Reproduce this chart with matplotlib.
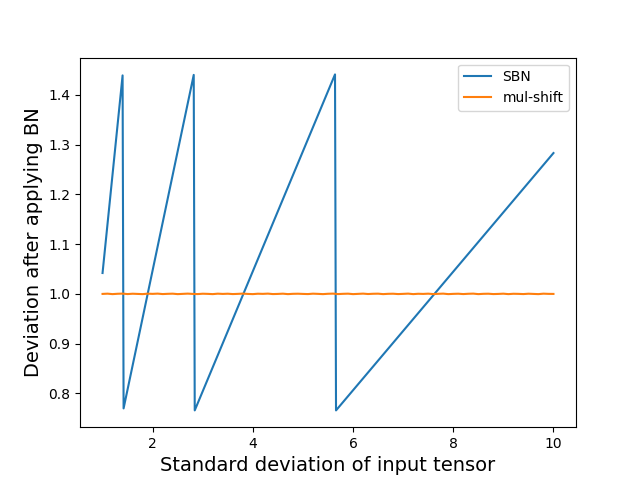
import matplotlib
matplotlib.use("Agg")
import matplotlib.pyplot as plt
import numpy as np

# SBN: sawtooth vertices
sbn_x = [1.0, 1.40, 1.42, 2.82, 2.84, 5.64, 5.66, 10.0]
sbn_y = [1.042, 1.439, 0.770, 1.440, 0.766, 1.441, 0.766, 1.283]

# mul-shift: stays at ~1.0 with very small jitter
mul_x = np.linspace(1.0, 10.0, 91)
mul_y = [1.0000, 1.0005, 0.9996, 1.0003, 1.0006, 0.9997, 1.0004, 1.0000, 0.9996, 1.0005,
         1.0001, 1.0006, 0.9997, 1.0002, 1.0005, 0.9996, 1.0001, 1.0006, 1.0000, 0.9997,
         1.0004, 1.0001, 0.9996, 1.0005, 1.0000, 1.0004, 0.9997, 1.0001, 1.0006, 1.0000,
         0.9996, 1.0004, 1.0001, 1.0006, 0.9997, 1.0000, 1.0005, 0.9996, 1.0002, 1.0004,
         1.0000, 0.9997, 1.0005, 1.0001, 0.9996, 1.0003, 1.0006, 0.9997, 1.0002, 1.0005,
         0.9996, 1.0001, 1.0006, 0.9998, 1.0003, 1.0005, 0.9996, 1.0002, 1.0004, 0.9997,
         1.0001, 1.0006, 0.9996, 1.0003, 1.0000, 1.0005, 0.9997, 1.0002, 1.0006, 0.9996,
         1.0001, 1.0004, 0.9997, 1.0003, 1.0006, 0.9996, 1.0002, 1.0004, 0.9997, 1.0000,
         1.0005, 0.9996, 1.0003, 1.0001, 0.9997, 1.0004, 1.0000, 0.9996, 1.0005, 1.0001,
         1.0000]

plt.figure(figsize=(6.4, 4.8), dpi=100)
plt.plot(sbn_x, sbn_y, label="SBN")
plt.plot(mul_x, mul_y, label="mul-shift")
plt.xlabel("Standard deviation of input tensor", fontsize=14)
plt.ylabel("Deviation after applying BN", fontsize=14)
plt.legend(loc="upper right")
plt.savefig("out.png")
